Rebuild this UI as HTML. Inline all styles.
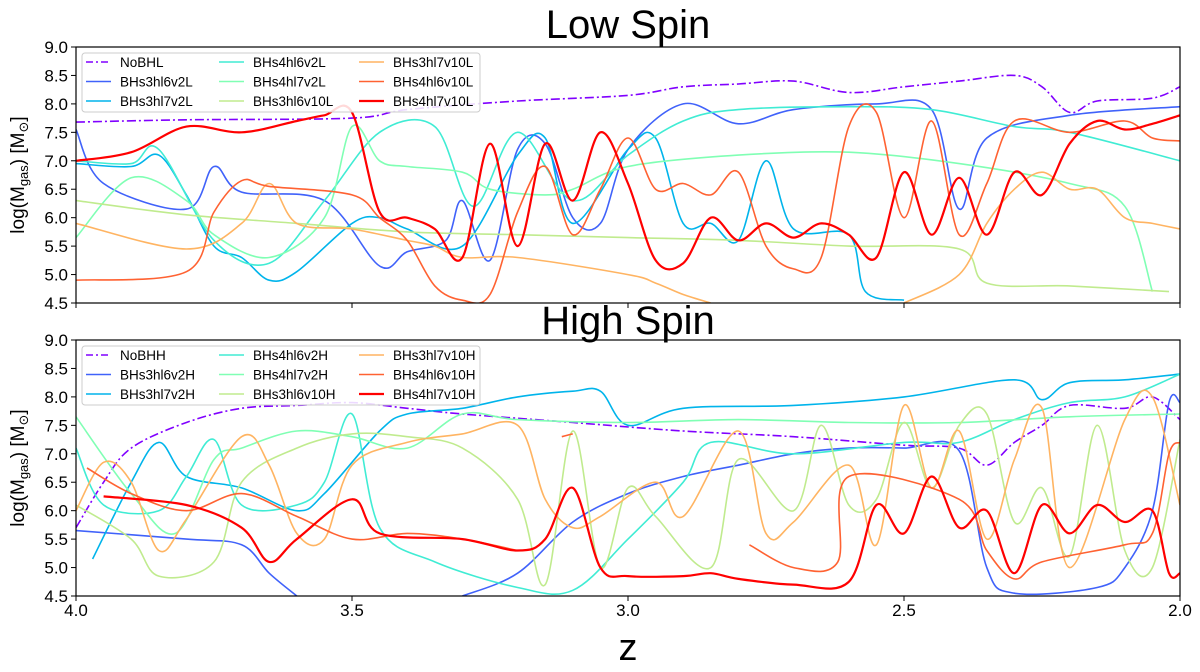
<!DOCTYPE html>
<html><head><meta charset="utf-8">
<style>
body{margin:0;background:#fff;}
svg{display:block;font-family:"Liberation Sans","DejaVu Sans",sans-serif;}
</style></head>
<body>
<svg id="chart" width="1200" height="672" viewBox="0 0 1200 672" xmlns="http://www.w3.org/2000/svg">
<defs>
<clipPath id="clipTop"><rect x="76" y="47" width="1104" height="256"/></clipPath>
<clipPath id="clipBot"><rect x="76" y="340" width="1104" height="256"/></clipPath>
</defs>
<text x="628" y="38" font-size="40" text-anchor="middle">Low Spin</text>
<text x="628" y="334" font-size="40" text-anchor="middle">High Spin</text>
<text x="628" y="660" font-size="38" text-anchor="middle">z</text>
<g id="panels"></g>
</svg>
<script>
const xTicks=[4.0,3.5,3.0,2.5,2.0];
const yTicks=[4.5,5.0,5.5,6.0,6.5,7.0,7.5,8.0,8.5,9.0];
const colors=["#8000ff","#4062fa","#00b4eb","#40ecd4","#80ffb4","#c0eb8e","#ffb462","#ff6232","#ff0000"];
const namesL=["NoBHL","BHs3hl6v2L","BHs3hl7v2L","BHs4hl6v2L","BHs4hl7v2L","BHs3hl6v10L","BHs3hl7v10L","BHs4hl6v10L","BHs4hl7v10L"];
const namesH=["NoBHH","BHs3hl6v2H","BHs3hl7v2H","BHs4hl6v2H","BHs4hl7v2H","BHs3hl6v10H","BHs3hl7v10H","BHs4hl6v10H","BHs4hl7v10H"];
const L0=[[4.0,7.68],[3.8,7.72],[3.5,7.75],[3.4,7.9],[3.2,8.05],[3.0,8.15],[2.9,8.3],[2.8,8.35],[2.7,8.4],[2.6,8.2],[2.5,8.3],[2.4,8.4],[2.3,8.5],[2.25,8.3],[2.2,7.85],[2.15,8.05],[2.05,8.1],[2.0,8.3]];
const L1=[[4.0,7.55],[3.95,6.6],[3.8,6.15],[3.75,6.9],[3.7,6.45],[3.55,6.3],[3.45,5.15],[3.4,5.4],[3.33,5.6],[3.3,6.3],[3.25,5.25],[3.2,7.2],[3.15,7.3],[3.1,6.0],[3.05,5.9],[3.0,7.2],[2.9,8.0],[2.8,7.65],[2.7,7.9],[2.55,8.0],[2.45,7.9],[2.4,6.15],[2.35,7.4],[2.2,7.8],[2.0,7.95]];
const L2=[[4.0,6.95],[3.9,6.9],[3.85,7.1],[3.8,6.4],[3.75,5.5],[3.7,5.3],[3.65,4.9],[3.6,5.05],[3.5,5.9],[3.45,6.0],[3.4,5.8],[3.3,5.5],[3.2,7.1],[3.15,7.4],[3.1,5.9],[3.0,7.2],[2.95,7.4],[2.9,5.9],[2.85,5.9],[2.8,5.6],[2.75,7.0],[2.7,5.8],[2.6,5.7],[2.57,4.7],[2.5,4.55]];
const L3=[[4.0,7.0],[3.9,6.95],[3.85,7.2],[3.75,5.6],[3.65,5.2],[3.55,6.3],[3.45,7.5],[3.35,7.6],[3.28,6.2],[3.2,7.5],[3.1,6.3],[3.0,7.1],[2.9,7.7],[2.8,7.9],[2.6,7.95],[2.45,7.9],[2.3,7.6],[2.2,7.5],[2.0,7.0]];
const L4=[[4.0,5.65],[3.9,6.7],[3.8,6.3],[3.75,5.7],[3.65,5.3],[3.55,6.0],[3.5,7.6],[3.45,7.0],[3.4,6.9],[3.3,6.8],[3.25,6.5],[3.15,6.4],[3.1,6.5],[3.0,6.9],[2.8,7.1],[2.6,7.15],[2.4,6.95],[2.2,6.6],[2.1,6.2],[2.05,4.7]];
const L5=[[4.0,6.3],[3.8,6.05],[3.6,5.9],[3.4,5.75],[3.2,5.7],[3.0,5.65],[2.8,5.6],[2.6,5.5],[2.4,5.45],[2.35,4.85],[2.2,4.8],[2.02,4.7]];
const L6=[[4.0,5.9],[3.8,5.45],[3.7,5.9],[3.65,6.6],[3.6,5.9],[3.5,5.8],[3.4,5.6],[3.35,5.5],[3.3,5.3],[3.2,5.3],[3.0,5.0],[2.95,4.85],[2.9,4.65],[2.85,4.5],null,[2.5,4.5],[2.4,5.0],[2.35,5.9],[2.3,6.5],[2.25,6.8],[2.2,6.5],[2.15,6.5],[2.1,6.0],[2.05,5.9],[2.0,5.8]];
const L7=[[4.0,4.9],[3.8,5.05],[3.75,6.1],[3.7,6.65],[3.65,6.55],[3.5,6.4],[3.45,6.0],[3.4,5.6],[3.35,4.8],[3.3,4.55],[3.25,4.65],[3.2,6.1],[3.15,6.9],[3.1,5.7],[3.05,6.5],[3.0,7.4],[2.95,6.5],[2.9,6.6],[2.85,6.4],[2.8,6.8],[2.75,5.5],[2.7,5.1],[2.65,5.3],[2.6,7.6],[2.55,7.85],[2.5,6.0],[2.45,7.7],[2.4,5.7],[2.35,6.6],[2.3,7.7],[2.2,7.5],[2.1,7.7],[2.05,7.4],[2.0,7.35]];
const L8=[[4.0,7.0],[3.9,7.15],[3.8,7.6],[3.7,7.5],[3.6,7.7],[3.55,7.8],[3.5,7.85],[3.45,6.1],[3.4,6.0],[3.35,5.8],[3.3,5.3],[3.25,7.3],[3.2,5.5],[3.15,7.3],[3.1,6.3],[3.05,7.5],[3.0,6.6],[2.95,5.25],[2.9,5.2],[2.85,6.0],[2.8,5.6],[2.75,5.9],[2.7,5.65],[2.65,5.9],[2.6,5.7],[2.55,5.3],[2.5,6.8],[2.45,5.7],[2.4,6.7],[2.35,5.7],[2.3,6.8],[2.25,6.4],[2.2,7.3],[2.15,7.7],[2.1,7.55],[2.05,7.65],[2.0,7.8]];
const H0=[[4.0,5.7],[3.95,6.5],[3.9,7.1],[3.8,7.55],[3.7,7.8],[3.6,7.85],[3.5,7.9],[3.4,7.8],[3.3,7.7],[3.1,7.55],[2.9,7.4],[2.7,7.3],[2.5,7.15],[2.4,7.1],[2.35,6.8],[2.3,7.2],[2.25,7.5],[2.2,7.85],[2.1,7.8],[2.05,8.0],[2.0,7.6]];
const H1=[[4.0,5.65],[3.8,5.5],[3.7,5.4],[3.65,4.9],[3.6,4.5],null,[3.3,4.5],[3.2,4.9],[3.1,5.8],[3.0,6.3],[2.9,6.6],[2.8,6.8],[2.7,7.0],[2.6,7.1],[2.5,7.1],[2.4,7.05],[2.35,5.0],[2.3,4.55],[2.15,4.65],[2.1,5.0],[2.05,6.0],[2.02,7.9],[2.0,7.9]];
const H2=[[3.97,5.15],[3.9,6.5],[3.85,7.2],[3.8,6.6],[3.7,6.4],[3.6,6.0],[3.55,6.3],[3.45,7.4],[3.4,7.7],[3.3,7.8],[3.2,8.0],[3.1,8.1],[3.05,8.1],[3.0,7.5],[2.9,7.8],[2.7,7.85],[2.5,8.0],[2.3,8.3],[2.25,7.95],[2.2,8.25],[2.1,8.3],[2.0,8.4]];
const H3=[[4.0,7.1],[3.95,6.1],[3.85,6.0],[3.8,6.6],[3.75,7.25],[3.7,6.1],[3.6,6.1],[3.55,6.5],[3.5,7.7],[3.45,5.7],[3.35,5.1],[3.2,4.65],[3.1,4.6],[3.0,5.5],[2.9,6.5],[2.85,7.2],[2.7,7.0],[2.5,7.2],[2.4,7.2],[2.3,7.6],[2.2,7.9],[2.1,8.0],[2.0,8.4]];
const H4=[[4.0,7.65],[3.9,6.3],[3.82,5.6],[3.75,6.9],[3.7,7.1],[3.6,7.4],[3.5,7.3],[3.4,7.1],[3.3,7.7],[3.2,7.6],[3.0,7.55],[2.8,7.6],[2.6,7.55],[2.4,7.55],[2.2,7.65],[2.0,7.7]];
const H5=[[4.0,6.1],[3.9,5.5],[3.85,4.85],[3.75,5.1],[3.7,6.5],[3.6,7.1],[3.5,7.35],[3.4,7.3],[3.3,7.1],[3.2,6.2],[3.15,4.7],[3.1,7.4],[3.05,5.0],[3.0,6.4],[2.95,5.9],[2.85,5.0],[2.8,6.9],[2.7,6.0],[2.65,7.5],[2.6,6.1],[2.55,6.2],[2.5,7.55],[2.45,6.4],[2.4,7.5],[2.35,7.7],[2.3,5.8],[2.25,6.4],[2.2,5.2],[2.15,7.5],[2.1,5.3],[2.05,5.0],[2.0,7.25]];
const H6=[[4.0,6.0],[3.95,6.85],[3.9,6.5],[3.85,5.3],[3.8,5.85],[3.7,7.3],[3.65,6.8],[3.6,5.6],[3.55,5.5],[3.5,6.8],[3.4,7.2],[3.3,7.35],[3.2,7.5],[3.15,6.2],[3.1,5.7],[3.05,5.9],[2.95,6.5],[2.9,5.9],[2.8,7.4],[2.75,5.6],[2.7,5.8],[2.6,6.8],[2.55,5.4],[2.5,7.85],[2.45,6.4],[2.4,7.4],[2.35,5.5],[2.3,6.9],[2.25,7.8],[2.2,5.0],[2.1,7.6],[2.05,8.0],[2.0,6.1]];
const H7=[[3.98,6.75],[3.9,6.3],[3.8,6.0],[3.7,6.3],[3.6,5.9],[3.5,5.5],[3.4,5.6],[3.3,5.5],[3.2,5.3],null,[3.12,7.3],[3.1,7.35],null,[2.78,5.4],[2.7,5.0],[2.62,5.1],[2.6,6.6],[2.4,6.2],[2.35,5.3],[2.3,4.8],[2.25,5.1],[2.1,5.4],[2.05,5.6],[2.02,7.0],[2.0,7.2]];
const H8=[[3.95,6.25],[3.8,6.1],[3.7,5.7],[3.65,5.1],[3.6,5.5],[3.5,6.2],[3.45,5.6],[3.3,5.5],[3.2,5.3],[3.15,5.5],[3.1,6.4],[3.05,5.0],[3.0,4.85],[2.9,4.85],[2.85,4.9],[2.8,4.8],[2.7,4.7],[2.6,4.75],[2.55,6.1],[2.5,5.6],[2.45,6.6],[2.4,5.7],[2.35,6.0],[2.3,4.9],[2.25,6.1],[2.2,5.6],[2.15,6.1],[2.1,5.8],[2.05,6.0],[2.02,4.9],[2.0,4.9]];
const seriesL=[L0,L1,L2,L3,L4,L5,L6,L7,L8];
const seriesH=[H0,H1,H2,H3,H4,H5,H6,H7,H8];

const NS="http://www.w3.org/2000/svg";
const X0=76,X1=1180;
function xScale(z){return X0+(4-z)/2*(X1-X0);}
function mk(tag,attrs,parent){const e=document.createElementNS(NS,tag);for(const k in attrs)e.setAttribute(k,attrs[k]);parent.appendChild(e);return e;}
function smoothPath(pts){
  let d="";
  for(let i=0;i<pts.length;i++){
    const p=pts[i];
    if(i===0){d+="M"+p[0].toFixed(1)+","+p[1].toFixed(1);continue;}
    const p0=pts[i-2]||pts[i-1],p1=pts[i-1],p3=pts[i+1]||p;
    const c1=[p1[0]+(p[0]-p0[0])/6,p1[1]+(p[1]-p0[1])/6];
    const c2=[p[0]-(p3[0]-p1[0])/6,p[1]-(p3[1]-p1[1])/6];
    d+="C"+c1[0].toFixed(1)+","+c1[1].toFixed(1)+" "+c2[0].toFixed(1)+","+c2[1].toFixed(1)+" "+p[0].toFixed(1)+","+p[1].toFixed(1);
  }
  return d;
}
const root=document.getElementById('panels');
function panel(top,series,names,clip,showX,key){
  const bot=top+256;
  const yScale=v=>bot-(v-4.5)/4.5*256;
  const g=mk('g',{},root);
  
  
  const lg=mk('g',{'clip-path':'url(#'+clip+')'},g);
  series.forEach((s,i)=>{
    let segs=[[]];
    s.forEach(p=>{if(p===null)segs.push([]);else segs[segs.length-1].push([xScale(p[0]),yScale(p[1])]);});
    let d="";segs.forEach(sg=>{if(sg.length>1)d+=smoothPath(sg);});
    const attrs={d:d,fill:'none',stroke:colors[i],'stroke-width':i===8?2.2:1.6,'stroke-linejoin':'round'};
    if(i===0)attrs['stroke-dasharray']='9,3,2,3';
    const path=mk('path',attrs,lg);
    
    
  });
  const fr=mk('rect',{x:X0,y:top,width:X1-X0,height:256,fill:'none',stroke:'#000','stroke-width':1.2},g);
  
  
  yTicks.forEach(v=>{
    const y=yScale(v);
    mk('line',{x1:X0-5,x2:X0,y1:y,y2:y,stroke:'#000'},g);
    const t=mk('text',{x:X0-8,y:y+6,'font-size':17,'text-anchor':'end'},g);
    t.textContent=v.toFixed(1);
    
    
  });
  xTicks.forEach(z=>{
    const x=xScale(z);
    mk('line',{x1:x,x2:x,y1:bot,y2:bot+5,stroke:'#000'},g);
    if(showX){
      const t=mk('text',{x:x,y:bot+20,'font-size':17,'text-anchor':'middle'},g);
      t.textContent=z.toFixed(1);
      
      
    }
  });
  const yt=mk('text',{transform:'translate(24,'+(top+128)+') rotate(-90)','font-size':19,'text-anchor':'middle'},g);
  yt.innerHTML='log(M<tspan font-size="13" dy="4">gas</tspan><tspan dy="-4">) [M</tspan><tspan font-size="13" dy="4">⊙</tspan><tspan dy="-4">]</tspan>';
  
  
  const leg=mk('g',{},g);
  
  
  mk('rect',{x:82,y:top+6,width:398,height:59,rx:3,fill:'rgba(255,255,255,0.85)',stroke:'#ccc'},leg);
  const colX=[86,219,359];
  names.forEach((n,i)=>{
    const c=Math.floor(i/3),r=i%3;
    const y=top+15+r*19.5;
    const e=mk('g',{},leg);
    
    
    const la={x1:colX[c],x2:colX[c]+25,y1:y,y2:y,stroke:colors[i],'stroke-width':i===8?2.2:1.6};
    if(i===0)la['stroke-dasharray']='7,3,2,3';
    mk('line',la,e);
    const t=mk('text',{x:colX[c]+34,y:y+5,'font-size':13.5},e);
    t.textContent=n;
  });
}
panel(47,seriesL,namesL,'clipTop',false,'low-spin');
panel(340,seriesH,namesH,'clipBot',true,'high-spin');
</script>
</body></html>
